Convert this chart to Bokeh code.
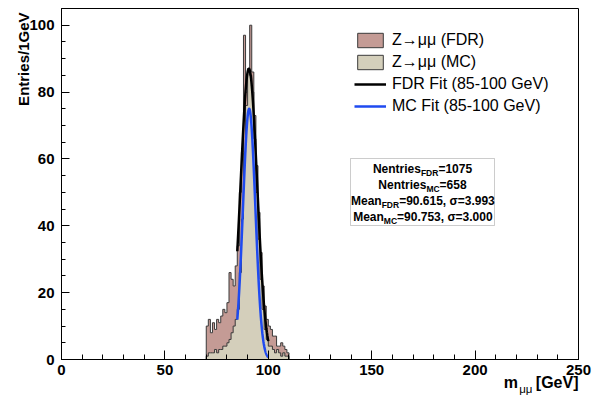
import numpy as np
from bokeh.plotting import figure
from bokeh.models import (Range1d, Label, Legend, LegendItem, BoxAnnotation, FixedTicker, Title)
from bokeh.embed import file_html
from bokeh.resources import INLINE

# ---------------- data ----------------
bin_low = list(range(70, 110))          # 1 GeV bins, 70..110 GeV
fdr_counts = [10, 12, 8, 11, 9, 12, 11, 13, 15, 14,
              17, 26, 24, 22, 28, 34, 50, 62, 97, 80,
              87, 100, 86, 73, 58, 44, 32, 22, 16, 12,
              10, 9, 7, 7, 4, 4, 5, 4, 3, 2]
mc_counts = [1, 2, 2, 2, 3, 2, 3, 3, 4, 4,
             5, 6, 8, 10, 12, 15, 26, 42, 62, 76,
             86, 85, 80, 66, 50, 36, 24, 15, 9, 6,
             4, 4, 3, 2, 3, 2, 1, 2, 1, 1]
fit_range = [85, 100]
fdr_fit = {"amp": 87.0, "mean": 90.615, "sigma": 3.993}
mc_fit = {"amp": 75.0, "mean": 90.753, "sigma": 3.000}
fdr_entries = 1075
mc_entries = 658
x_ticks = [0, 50, 100, 150, 200, 250]
y_ticks = [0, 20, 40, 60, 80, 100]
legend_labels = ["Z\u2192\u03bc\u03bc (FDR)", "Z\u2192\u03bc\u03bc (MC)",
                 "FDR Fit (85-100 GeV)", "MC Fit (85-100 GeV)"]
y_title = "Entries/1GeV"
x_title_main, x_title_sub, x_title_unit = "m", "\u03bc\u03bc", "[GeV]"

# ---------------- layout ----------------
W, H = 593, 396
ML, MR, MT, MB = 61, 15, 8, 37
XMIN, XMAX, YMIN, YMAX = 0, 250, 0, 105
FW, FH = W - ML - MR, H - MT - MB

def px2x(px):
    return XMIN + (px - ML) * (XMAX - XMIN) / FW

def py2y(py):
    return YMIN + (H - MB - py) * (YMAX - YMIN) / FH

p = figure(width=W, height=H, x_range=Range1d(XMIN, XMAX), y_range=Range1d(YMIN, YMAX),
           output_backend="svg", toolbar_location=None,
           min_border_left=ML, min_border_right=MR, min_border_top=MT, min_border_bottom=MB)
p.background_fill_color = "white"
p.border_fill_color = "white"
p.grid.visible = False
p.outline_line_color = "black"
p.outline_line_width = 1

FONT = "Liberation Sans"
p.xaxis.ticker = FixedTicker(ticks=x_ticks, minor_ticks=list(range(0, 251, 10)))
p.yaxis.ticker = FixedTicker(ticks=y_ticks, minor_ticks=list(range(0, 106, 5)))
for ax in (p.xaxis[0], p.yaxis[0]):
    ax.major_tick_out = 0
    ax.minor_tick_out = 0
    ax.axis_line_color = "black"
    ax.major_tick_line_color = "black"
    ax.minor_tick_line_color = "black"
    ax.major_label_text_font = FONT
    ax.major_label_text_font_style = "bold"
    ax.major_label_text_font_size = "15px"
    ax.major_label_text_color = "black"
p.xaxis.major_tick_in = 9
p.xaxis.minor_tick_in = 5
p.yaxis.major_tick_in = 8
p.yaxis.minor_tick_in = 4
p.xaxis.major_label_standoff = 5
p.yaxis.major_label_standoff = 7

# ---------------- histograms ----------------
def step_outline(lows, counts):
    xs, ys = [lows[0]], [0]
    for lo, c in zip(lows, counts):
        xs += [lo, lo + 1]
        ys += [c, c]
    xs.append(lows[-1] + 1)
    ys.append(0)
    return xs, ys

FDR_FILL = "#c49b95"
MC_FILL = "#d4cfbb"
EDGE = "#3a3a3a"

fx, fy = step_outline(bin_low, fdr_counts)
mx, my = step_outline(bin_low, mc_counts)
r_fdr = p.patch(fx, fy, fill_color=FDR_FILL, line_color=EDGE, line_width=1)
r_mc = p.patch(mx, my, fill_color=MC_FILL, line_color=EDGE, line_width=1)

# ---------------- fits ----------------
def gauss(x, f):
    return f["amp"] * np.exp(-0.5 * ((x - f["mean"]) / f["sigma"]) ** 2)

xf = np.linspace(fit_range[0], fit_range[1], 300)
r_fdr_fit = p.line(xf, gauss(xf, fdr_fit), line_color="black", line_width=2.5)
r_mc_fit = p.line(xf, gauss(xf, mc_fit), line_color="#1f4af0", line_width=2.5)

legend = Legend(items=[LegendItem(label=legend_labels[0], renderers=[r_fdr]),
                       LegendItem(label=legend_labels[1], renderers=[r_mc]),
                       LegendItem(label=legend_labels[2], renderers=[r_fdr_fit]),
                       LegendItem(label=legend_labels[3], renderers=[r_mc_fit])],
                location=(293, 244), orientation="vertical")
legend.border_line_color = None
legend.background_fill_alpha = 0
legend.padding = 0
legend.margin = 0
legend.spacing = 4
legend.glyph_width = 32
legend.glyph_height = 18
legend.label_height = 18
legend.label_standoff = 6
legend.label_text_font = FONT
legend.label_text_font_size = "16px"
legend.label_text_color = "black"
p.add_layout(legend)

# ---------------- text helpers ----------------
HB = {' ': 278, '\u00a0': 278, '(': 333, ')': 333, ',': 278, '-': 333, '.': 278, '=': 584,
      '[': 333, ']': 333, 'A': 722, 'C': 722, 'D': 722, 'F': 611, 'G': 778, 'M': 833, 'N': 722,
      'R': 722, 'V': 667, 'a': 556, 'e': 556, 'i': 278, 'm': 889, 'n': 611, 'r': 389, 's': 556,
      't': 333, '\u03c3': 620, '\u03bc': 600}

def tw(s, size):
    return sum(HB.get(c, 556) for c in s) * size / 1000.0

def rich_line(segments, px_start, py_mid, size, sub_size, sub_drop):
    x = px_start
    for txt, sub in segments:
        s = sub_size if sub else size
        yy = py_mid + (sub_drop if sub else 0)
        p.add_layout(Label(x=px2x(x), y=py2y(yy), text=txt, text_font=FONT, text_font_style="bold",
                           text_font_size=f"{s}px", text_align="left", text_baseline="middle",
                           text_color="black"))
        x += tw(txt, s)

# ---------------- stats box ----------------
box = BoxAnnotation(left=px2x(350), right=px2x(494), top=py2y(158), bottom=py2y(225),
                    fill_color="white", fill_alpha=1, line_color="#555555", line_width=1)
p.add_layout(box)

stats_lines = [
    [("Nentries", False), ("FDR", True), (f"={fdr_entries}", False)],
    [("Nentries", False), ("MC", True), (f"={mc_entries}", False)],
    [("Mean", False), ("FDR", True), (f"={fdr_fit['mean']:.3f}, \u03c3={fdr_fit['sigma']:.3f}", False)],
    [("Mean", False), ("MC", True), (f"={mc_fit['mean']:.3f}, \u03c3={mc_fit['sigma']:.3f}", False)],
]
S_MAIN, S_SUB = 12, 8.5
for i, segs in enumerate(stats_lines):
    total = sum(tw(t, S_SUB if s else S_MAIN) for t, s in segs)
    rich_line(segs, 422 - total / 2, 168 + 16 * i, S_MAIN, S_SUB, 4)

# ---------------- axis titles (Title models in the side panels) ----------------
p.add_layout(Title(text=y_title, align="right", text_font=FONT, text_font_style="bold",
                   text_font_size="15px", standoff=-10, offset=4, text_color="black"), "left")

XT_SIZE, XT_SUB = 16, 11.5
gap = "\u00a0" * 4
xt_text = x_title_main + gap + x_title_unit
sub_end_offset = tw(xt_text, XT_SIZE) - tw(x_title_main, XT_SIZE) - 0.5 - tw(x_title_sub, XT_SUB)
p.add_layout(Title(text=xt_text, align="right", text_font=FONT, text_font_style="bold",
                   text_font_size=f"{XT_SIZE}px", standoff=-11, offset=0, text_color="black"), "below")
p.add_layout(Title(text=x_title_sub, align="right", text_font=FONT, text_font_style="normal",
                   text_font_size=f"{XT_SUB}px", standoff=-10, offset=round(sub_end_offset),
                   text_color="black"), "below")

open("out.html", "w").write(file_html(p, INLINE))
